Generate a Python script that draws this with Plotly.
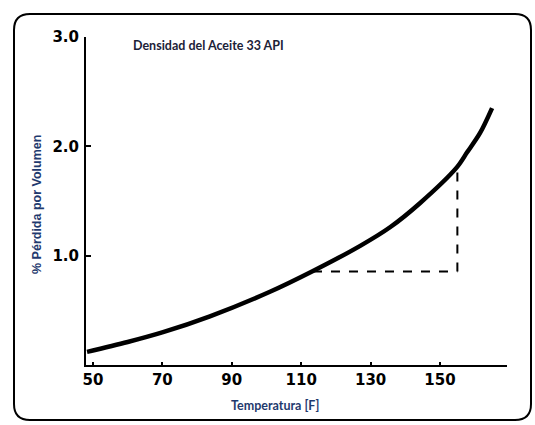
import plotly.graph_objects as go

# Data
temp_f = [48.3, 60.0, 70.2, 83.7, 101.0, 113.4, 127.0, 135.6, 144.2, 154.9, 157.8, 161.5, 165.0]
loss_pct = [0.12, 0.21, 0.30, 0.445, 0.67, 0.86, 1.09, 1.26, 1.48, 1.81, 1.945, 2.12, 2.35]

x_ticks = [50, 70, 90, 110, 130, 150]
y_ticks = [1.0, 2.0, 3.0]
y_tick_labels = ["1.0", "2.0", "3.0"]

dash_h_x = [113.4, 155.0]
dash_h_y = [0.855, 0.855]
dash_v_x = [155.0, 155.0]
dash_v_y = [0.855, 1.82]

title_text = "Densidad del Aceite 33 API"
x_title = "Temperatura [F]"
y_title = "% Pérdida por Volumen"

W, H = 535, 425
L, R, T, B = 86, 507, 37, 365


def px(xp):
    return (xp - L) / (R - L)


def py(yp):
    return (B - yp) / (B - T)


fig = go.Figure()
fig.add_trace(go.Scatter(x=temp_f, y=loss_pct, mode="lines",
                         line=dict(color="black", width=4.5, shape="spline", smoothing=0.9),
                         hoverinfo="skip", showlegend=False))
fig.add_trace(go.Scatter(x=dash_h_x, y=dash_h_y, mode="lines",
                         line=dict(color="black", width=2, dash="dash"),
                         hoverinfo="skip", showlegend=False))
fig.add_trace(go.Scatter(x=dash_v_x, y=dash_v_y, mode="lines",
                         line=dict(color="black", width=2, dash="dash"),
                         hoverinfo="skip", showlegend=False))

# Rounded frame
r = 16
x0, x1, y0, y1 = 14, 531, 14, 420
path = (
    f"M {px(x0 + r)},{py(y0)} L {px(x1 - r)},{py(y0)} "
    f"Q {px(x1)},{py(y0)} {px(x1)},{py(y0 + r)} "
    f"L {px(x1)},{py(y1 - r)} Q {px(x1)},{py(y1)} {px(x1 - r)},{py(y1)} "
    f"L {px(x0 + r)},{py(y1)} Q {px(x0)},{py(y1)} {px(x0)},{py(y1 - r)} "
    f"L {px(x0)},{py(y0 + r)} Q {px(x0)},{py(y0)} {px(x0 + r)},{py(y0)} Z"
)
fig.add_shape(type="path", path=path, xref="paper", yref="paper",
              line=dict(color="black", width=2), layer="above")

fig.add_annotation(text=f"<b>{title_text}</b>", xref="paper", yref="paper",
                   x=px(131), y=py(45), xanchor="left", yanchor="middle",
                   showarrow=False, font=dict(family="Lato", size=12.5, color="#1c2238"))
fig.add_annotation(text=f"<b>{x_title}</b>", xref="paper", yref="paper",
                   x=px(275), y=py(405), xanchor="center", yanchor="middle",
                   showarrow=False, font=dict(family="Lato", size=12.5, color="#1f3a6e"))
fig.add_annotation(text=f"<b>{y_title}</b>", xref="paper", yref="paper",
                   x=px(37), y=py(205), xanchor="center", yanchor="middle", textangle=-90,
                   showarrow=False, font=dict(family="Liberation Sans", size=12.5, color="#1f3a6e"))

tick_font = dict(family="DejaVu Sans", size=15, color="black", weight="bold")

fig.update_layout(
    width=W, height=H,
    margin=dict(l=L, r=W - R, t=T, b=H - B),
    paper_bgcolor="white", plot_bgcolor="white",
    xaxis=dict(range=[48, 169.3], tickvals=x_ticks, ticktext=[str(v) for v in x_ticks],
               showgrid=False, zeroline=False, showline=True, linecolor="black", linewidth=2,
               ticks="inside", ticklen=3, tickwidth=1.5, tickcolor="black",
               tickfont=tick_font),
    yaxis=dict(range=[0, 3.0], tickvals=y_ticks, ticktext=y_tick_labels,
               showgrid=False, zeroline=False, showline=True, linecolor="black", linewidth=2,
               ticks="inside", ticklen=5, tickwidth=1.5, tickcolor="black",
               tickfont=tick_font, ticklabelstandoff=2),
)

fig.write_html("out.html", config={"displayModeBar": False},
               post_script="document.body.style.margin='0';document.body.style.padding='0';")
